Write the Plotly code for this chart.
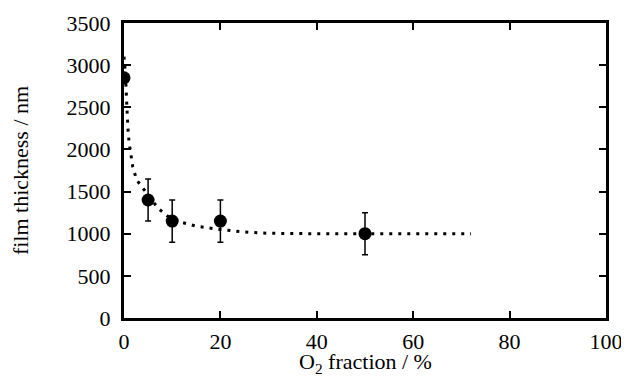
import plotly.graph_objects as go

# measured data
o2_fraction = [0, 5, 10, 20, 50]
thickness = [2850, 1400, 1150, 1150, 1000]
thickness_err = [0, 250, 250, 250, 250]

# dotted guide curve
fit_x = [0, 0.3, 0.6, 0.9, 1.2, 1.5, 1.8, 2.6, 3.9, 5.5, 7.1, 9, 11.6, 15, 20, 25, 30, 40, 50, 60, 72]
fit_y = [3100, 2900, 2500, 2170, 2030, 1910, 1800, 1640, 1540, 1420, 1300, 1210, 1140, 1090, 1050, 1020, 1005, 1000, 1000, 1000, 1000]

x_ticks = [0, 20, 40, 60, 80, 100]
y_ticks = [0, 500, 1000, 1500, 2000, 2500, 3000, 3500]

FONT = "Liberation Serif"
FS = 22

fig = go.Figure()
fig.add_trace(go.Scatter(
    x=fit_x, y=fit_y, mode="lines",
    line=dict(color="black", width=3, dash="3px,6px"),
    hoverinfo="skip", showlegend=False,
))
fig.add_trace(go.Scatter(
    x=o2_fraction, y=thickness, mode="markers",
    marker=dict(color="black", size=13),
    error_y=dict(type="data", array=thickness_err, visible=True,
                 color="black", thickness=1.5, width=3),
    showlegend=False,
))

axis_common = dict(
    showline=True, linecolor="black", linewidth=3, mirror="ticks",
    ticks="inside", ticklen=7, tickwidth=2, tickcolor="black",
    showgrid=False, zeroline=False, automargin=False,
    ticklabeloverflow="allow",
    tickfont=dict(family=FONT, size=FS, color="black"),
)

# page body has an 8px default margin, so the figure is shifted by 8px
fig.update_layout(
    width=613, height=369,
    margin=dict(l=116, r=15, t=15, b=59),
    paper_bgcolor="white", plot_bgcolor="white",
    font=dict(family=FONT, color="black"),
    xaxis=dict(range=[0, 100], tickvals=x_ticks, ticklabelstandoff=2,
               **axis_common),
    yaxis=dict(range=[0, 3500], tickvals=y_ticks, ticklabelstandoff=6,
               title=dict(text="film thickness / nm", font=dict(family=FONT, size=FS), standoff=33),
               **axis_common),
    annotations=[dict(
        text="O<sub>2</sub> fraction / %", xref="paper", yref="paper",
        x=0.5, y=-0.152, xanchor="center", yanchor="middle", showarrow=False,
        font=dict(family=FONT, size=FS, color="black"),
    )],
)

fig.write_html("out.html")
